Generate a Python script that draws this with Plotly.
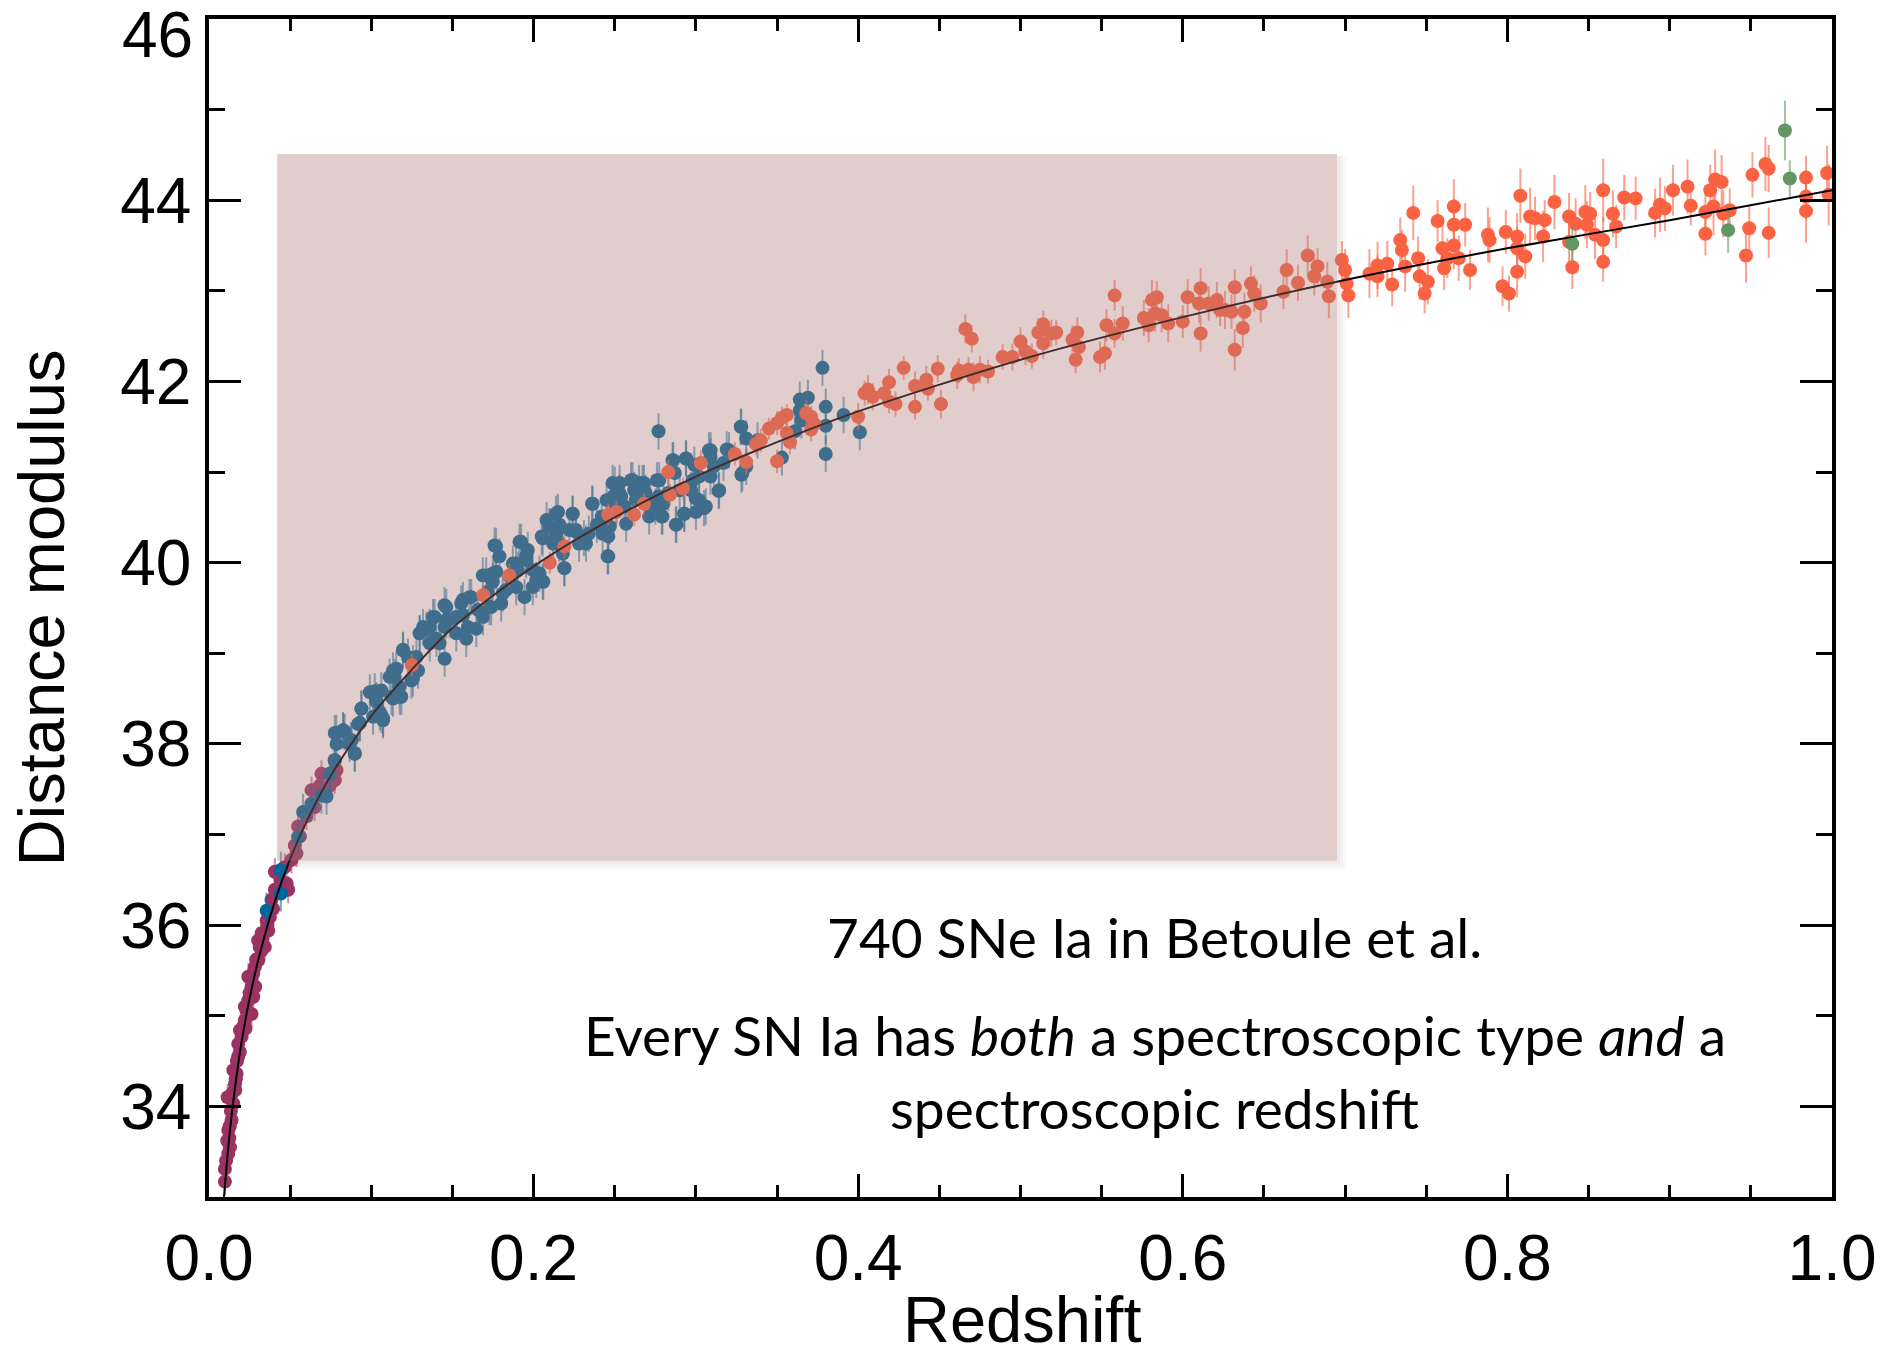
import plotly.graph_objects as go

# ---------------- data ----------------
# Low-z sample (magenta)
lowz_z = [0.0098, 0.0098, 0.0119, 0.0129, 0.0119, 0.0139, 0.0150, 0.0115, 0.0160, 0.0170,
          0.0150, 0.0180, 0.0180, 0.0201, 0.0191, 0.0221, 0.0262, 0.0221, 0.0242, 0.0273,
          0.0262, 0.0242, 0.0273, 0.0283, 0.0303, 0.0324, 0.0344, 0.0303, 0.0324, 0.0365,
          0.0355, 0.0375, 0.0385, 0.0406, 0.0488, 0.0478, 0.0406, 0.0467, 0.0508, 0.0539,
          0.0529, 0.0549, 0.0693, 0.0785, 0.0775, 0.0683, 0.0744, 0.0632,
          0.0105, 0.0125, 0.0135, 0.0145, 0.0165, 0.0172, 0.0190, 0.0210, 0.0232, 0.0250,
          0.0262, 0.0290, 0.0312, 0.0330, 0.0360, 0.0285, 0.0225, 0.0162, 0.0112, 0.0128,
          0.0395, 0.0440, 0.0560, 0.0600, 0.0650]
lowz_mu = [33.17, 33.31, 33.48, 33.55, 33.74, 33.85, 34.03, 34.10, 34.25, 34.36,
           34.40, 34.55, 34.69, 34.77, 34.84, 34.95, 35.02, 35.10, 35.17, 35.21,
           35.32, 35.43, 35.47, 35.54, 35.61, 35.72, 35.76, 35.83, 35.91, 35.94,
           36.05, 36.09, 36.28, 36.39, 36.39, 36.46, 36.59, 36.64, 36.72, 36.79,
           36.88, 37.09, 37.67, 37.71, 37.60, 37.54, 37.54, 37.49,
           33.40, 33.65, 33.95, 34.15, 34.30, 34.50, 34.60, 34.88, 35.05, 35.25,
           35.40, 35.62, 35.76, 35.86, 36.00, 35.32, 34.86, 34.18, 33.62, 33.78,
           36.18, 36.50, 36.98, 37.20, 37.30]
lowz_err = 0.15

# SDSS sample (blue)
sdss_z = [0.0355, 0.0443, 0.0443, 0.0549, 0.0580, 0.0631, 0.0693, 0.0724, 0.0744, 0.0775,
          0.0785, 0.0836, 0.0877, 0.0898, 0.0929,
          0.0745, 0.0775, 0.0786, 0.0827, 0.0898, 0.0878, 0.0919, 0.0939, 0.0991, 0.1032,
          0.1011, 0.1052, 0.1073, 0.1062, 0.1134, 0.1124, 0.1144, 0.1185, 0.1175, 0.1196,
          0.1247, 0.1257, 0.1226, 0.1288, 0.1278, 0.1298, 0.1319, 0.1339, 0.1360, 0.1380,
          0.1401, 0.1421, 0.1452, 0.1452, 0.1462, 0.1483, 0.1524, 0.1554, 0.1565, 0.1585,
          0.1595, 0.1616, 0.1647, 0.1657, 0.1688, 0.1708, 0.1718, 0.1739, 0.1749, 0.1759,
          0.1790, 0.1770, 0.1800, 0.1831, 0.1872, 0.1893, 0.1913, 0.1903, 0.1944, 0.1954,
          0.1964, 0.1995, 0.2016,
          0.0775, 0.0826, 0.0867, 0.0939, 0.0929, 0.1021, 0.1031, 0.1062, 0.1072, 0.1134,
          0.1175, 0.1113, 0.1154, 0.1195, 0.1257, 0.1298, 0.1359, 0.1390, 0.1451, 0.1462,
          0.1523, 0.1564, 0.1605, 0.1687, 0.1728, 0.1749, 0.1769, 0.1810, 0.1851, 0.1892,
          0.1923, 0.1954, 0.1995, 0.2036, 0.2056, 0.2056, 0.2097, 0.2138, 0.2159, 0.2189,
          0.2241, 0.2261, 0.2323, 0.2364, 0.2425, 0.2456, 0.2487, 0.2528, 0.2610, 0.2671,
          0.2712, 0.2774, 0.2794, 0.2876, 0.2856, 0.2938, 0.2927, 0.2999, 0.3061, 0.3091,
          0.3143, 0.3204, 0.3276, 0.3286,
          0.206, 0.205, 0.208, 0.210, 0.212, 0.214, 0.215, 0.216, 0.219, 0.218,
          0.224, 0.222, 0.226, 0.228, 0.231, 0.234, 0.236, 0.239, 0.242, 0.245,
          0.246, 0.246, 0.247, 0.249, 0.250, 0.251, 0.253, 0.254, 0.256, 0.257,
          0.260, 0.262, 0.263, 0.265, 0.268, 0.269, 0.272, 0.275, 0.276, 0.277,
          0.277, 0.279, 0.280, 0.283, 0.286, 0.287, 0.288, 0.290, 0.293, 0.294,
          0.297, 0.299, 0.300, 0.298,
          0.302, 0.305, 0.302, 0.308, 0.309, 0.309, 0.311, 0.314, 0.319, 0.317,
          0.328, 0.328, 0.331, 0.331, 0.338, 0.353, 0.361, 0.364, 0.364, 0.369,
          0.365, 0.378, 0.380, 0.380, 0.380, 0.391, 0.401]
sdss_mu = [36.16, 36.35, 36.61, 36.97, 37.25, 37.34, 37.43, 37.42, 37.67, 37.82,
           38.12, 38.13, 38.04, 37.90, 38.23,
           37.67, 37.82, 38.00, 38.15, 37.89, 38.04, 38.22, 38.39, 38.57, 38.48,
           38.30, 38.35, 38.28, 38.59, 38.81, 38.52, 38.74, 38.52, 38.63, 39.03,
           38.70, 38.72, 38.96, 38.81, 38.96, 39.22, 39.29, 39.26, 39.11, 39.40,
           39.16, 39.11, 38.94, 39.29, 39.51, 39.37, 39.22, 39.55, 39.42, 39.16,
           39.29, 39.62, 39.27, 39.48, 39.40, 39.86, 39.68, 39.51, 39.79, 40.19,
           40.07, 39.90, 39.55, 39.70, 39.99, 39.73, 40.23, 39.92, 39.62, 40.03,
           40.14, 39.92, 39.81,
           38.12, 38.15, 38.00, 38.39, 38.23, 38.58, 38.47, 38.32, 38.26, 38.50,
           38.52, 38.74, 38.83, 39.04, 38.89, 39.22, 39.29, 39.40, 39.53, 39.37,
           39.40, 39.59, 39.62, 39.86, 39.51, 39.88, 40.18, 39.66, 39.85, 39.99,
           40.23, 40.07, 39.73, 39.88, 39.79, 40.27, 40.40, 40.54, 40.21, 39.94,
           40.54, 40.36, 40.21, 40.65, 40.32, 40.07, 40.88, 40.77, 40.91, 40.88,
           40.51, 40.91, 40.51, 40.42, 41.13, 41.15, 40.54, 40.71, 40.62, 41.24,
           40.80, 41.24, 41.50, 40.99,
           39.79, 40.29, 40.47, 40.40, 40.21, 40.32, 40.56, 40.42, 39.94, 40.10,
           40.54, 40.36, 40.34, 40.21, 40.27, 40.32, 40.65, 40.42, 40.51, 40.69,
           40.29, 40.07, 40.40, 40.73, 40.86, 40.62, 40.88, 40.73, 40.62, 40.43,
           40.91, 40.80, 40.69, 40.88, 40.88, 40.77, 40.69, 40.62, 40.91, 40.73,
           41.45, 40.51, 40.65, 40.77, 41.13, 40.99, 40.42, 40.80, 40.54, 41.15,
           40.80, 41.08, 40.56, 40.91,
           40.95, 40.60, 40.69, 41.24, 41.17, 40.95, 41.06, 40.79, 41.25, 41.10,
           41.50, 40.97, 41.37, 41.06, 41.35, 41.16, 41.45, 41.80, 41.68, 41.82,
           41.57, 42.15, 41.72, 41.51, 41.20, 41.63, 41.44]
sdss_err = 0.2

# SNLS sample (orange)
snls_z = [0.125, 0.169, 0.185, 0.210, 0.219, 0.246, 0.251, 0.262, 0.268, 0.283, 0.284, 0.292,
          0.303, 0.324, 0.331, 0.337, 0.340, 0.345, 0.350, 0.353, 0.356, 0.350,
          0.356, 0.358, 0.368, 0.371, 0.371, 0.373, 0.400, 0.406, 0.404, 0.409,
          0.416, 0.419, 0.419, 0.423, 0.428, 0.435, 0.435, 0.442, 0.443, 0.449,
          0.451, 0.462, 0.461, 0.466, 0.470, 0.468, 0.471, 0.475, 0.480, 0.489,
          0.495, 0.500, 0.503, 0.507, 0.511, 0.514, 0.514, 0.519, 0.522, 0.532,
          0.534, 0.535, 0.536,
          0.558, 0.553, 0.558, 0.563, 0.549, 0.552, 0.576, 0.579, 0.581, 0.584,
          0.583, 0.587, 0.591, 0.600, 0.603, 0.611, 0.611, 0.610, 0.616, 0.621,
          0.623, 0.626, 0.630, 0.632, 0.632, 0.638, 0.637, 0.642, 0.644, 0.648,
          0.662, 0.664, 0.671, 0.677, 0.681, 0.683, 0.689, 0.690, 0.698, 0.700,
          0.701, 0.702, 0.715, 0.720, 0.720, 0.726, 0.729,
          0.734, 0.742, 0.735, 0.737, 0.745, 0.746, 0.749, 0.751, 0.757, 0.760,
          0.761, 0.763, 0.767, 0.767, 0.767, 0.770, 0.774, 0.777, 0.788, 0.789,
          0.797, 0.799, 0.801, 0.806, 0.806, 0.806, 0.808, 0.811, 0.814, 0.817,
          0.822, 0.823, 0.829, 0.838, 0.838, 0.840, 0.842, 0.848, 0.849, 0.851,
          0.854, 0.859, 0.859, 0.859, 0.865, 0.867, 0.872, 0.879, 0.891, 0.894,
          0.897, 0.902, 0.911, 0.913, 0.922, 0.922, 0.925, 0.927, 0.928, 0.932,
          0.933, 0.937, 0.947, 0.949, 0.951, 0.959, 0.961, 0.961, 0.984, 0.984,
          0.984, 0.997, 0.998]
snls_mu = [38.87, 39.64, 39.86, 40.00, 40.18, 40.53, 40.56, 40.53, 40.65, 41.00, 40.75, 40.82,
           41.10, 41.20, 41.11, 41.31, 41.35, 41.48, 41.54, 41.60, 41.63, 41.12,
           41.43, 41.33, 41.65, 41.61, 41.47, 41.53, 41.61, 41.91, 41.87, 41.83,
           41.87, 41.99, 41.78, 41.75, 42.15, 41.95, 41.72, 42.02, 41.92, 42.14,
           41.75, 42.12, 42.07, 42.58, 42.47, 42.13, 42.05, 42.13, 42.11, 42.27,
           42.27, 42.44, 42.33, 42.28, 42.54, 42.63, 42.42, 42.53, 42.54, 42.46,
           42.24, 42.54, 42.38,
           42.95, 42.62, 42.53, 42.64, 42.27, 42.31, 42.70, 42.62, 42.90, 42.93,
           42.75, 42.73, 42.64, 42.66, 42.93, 43.03, 42.53, 42.86, 42.86, 42.90,
           42.79, 42.79, 42.77, 43.04, 42.35, 42.77, 42.59, 43.08, 42.97, 42.86,
           42.99, 43.23, 43.09, 43.39, 43.16, 43.27, 43.10, 42.94, 43.34, 43.23,
           43.08, 42.95, 43.19, 43.28, 43.16, 43.30, 43.07,
           43.56, 43.86, 43.45, 43.27, 43.36, 43.16, 42.97, 43.10, 43.77, 43.47,
           43.25, 43.36, 43.93, 43.50, 43.73, 43.36, 43.73, 43.23, 43.62, 43.56,
           43.05, 43.65, 42.97, 43.60, 43.21, 43.47, 44.05, 43.38, 43.82, 43.80,
           43.60, 43.78, 43.98, 43.82, 43.54, 43.26, 43.74, 43.87, 43.73, 43.85,
           43.62, 43.56, 44.11, 43.32, 43.85, 43.71, 44.03, 44.02, 43.86, 43.95,
           43.91, 44.11, 44.15, 43.94, 43.87, 43.63, 44.11, 43.93, 44.23, 44.20,
           43.85, 43.89, 43.39, 43.69, 44.28, 44.40, 43.64, 44.35, 44.25, 44.04,
           43.88, 44.30, 44.06]
snls_err = [0.12, 0.12, 0.13, 0.12, 0.13, 0.12, 0.12, 0.13, 0.12, 0.13, 0.12, 0.12,
            0.14, 0.13, 0.14, 0.12, 0.13, 0.12, 0.13, 0.12, 0.12, 0.13,
            0.12, 0.13, 0.14, 0.12, 0.13, 0.12, 0.15, 0.16, 0.14, 0.15,
            0.14, 0.15, 0.13, 0.14, 0.13, 0.16, 0.14, 0.15, 0.13, 0.15,
            0.16, 0.14, 0.15, 0.16, 0.15, 0.14, 0.16, 0.15, 0.13, 0.14,
            0.15, 0.16, 0.15, 0.14, 0.16, 0.15, 0.17, 0.15, 0.14, 0.16,
            0.15, 0.17, 0.16,
            0.17, 0.18, 0.16, 0.19, 0.17, 0.18, 0.20, 0.19, 0.22, 0.18,
            0.20, 0.19, 0.21, 0.18, 0.20, 0.22, 0.20, 0.21, 0.19, 0.20,
            0.18, 0.21, 0.19, 0.20, 0.23, 0.21, 0.22, 0.19, 0.20, 0.21,
            0.19, 0.23, 0.20, 0.22, 0.21, 0.20, 0.22, 0.24, 0.21, 0.23,
            0.20, 0.25, 0.27, 0.26, 0.23, 0.25, 0.24,
            0.25, 0.30, 0.22, 0.28, 0.24, 0.26, 0.22, 0.25, 0.23, 0.27,
            0.24, 0.22, 0.30, 0.26, 0.28, 0.25, 0.24, 0.22, 0.30, 0.25,
            0.22, 0.24, 0.20, 0.26, 0.28, 0.23, 0.30, 0.25, 0.32, 0.24,
            0.28, 0.22, 0.30, 0.26, 0.25, 0.24, 0.28, 0.30, 0.26, 0.24,
            0.27, 0.25, 0.35, 0.22, 0.26, 0.24, 0.25, 0.24, 0.27, 0.30,
            0.25, 0.28, 0.30, 0.22, 0.30, 0.24, 0.28, 0.32, 0.33, 0.30,
            0.26, 0.24, 0.30, 0.25, 0.25, 0.30, 0.28, 0.26, 0.24, 0.26,
            0.35, 0.30, 0.34]

# HST sample (green)
hst_z = [0.840, 0.936, 0.971, 0.974]
hst_mu = [43.52, 43.67, 44.77, 44.24]
hst_err = [0.20, 0.25, 0.33, 0.20]

# Best-fit cosmology curve
fit_z = [0.0092, 0.012, 0.015, 0.02, 0.025, 0.03, 0.04, 0.05, 0.06, 0.075, 0.1, 0.125,
         0.15, 0.2, 0.25, 0.3, 0.35, 0.4, 0.5, 0.6, 0.7, 0.8, 0.9, 1.0]
fit_mu = [32.99, 33.57, 34.06, 34.70, 35.19, 35.59, 36.23, 36.73, 37.14, 37.65, 38.31, 38.82,
          39.28, 39.96, 40.50, 40.95, 41.33, 41.67, 42.24, 42.71, 43.12, 43.47, 43.78, 44.11]

# Highlighted region (redshift / distance-modulus extent)
box_z = [0.042, 0.695]
box_mu = [36.71, 44.51]

y_tick_vals = [34, 36, 38, 40, 42, 44, 46]
y_tick_text = ["34", "36", "38", "40", "42", "44", ""]

assert len(lowz_z) == len(lowz_mu)
assert len(sdss_z) == len(sdss_mu)
assert len(snls_z) == len(snls_mu) == len(snls_err), (len(snls_z), len(snls_mu), len(snls_err))

# ---------------- figure ----------------
LABEL_FONT = "Liberation Sans, Arial, Helvetica, sans-serif"
NOTE_FONT = "Lato, Open Sans, sans-serif"

fig = go.Figure()

def add_series(z, mu, err, color, err_color):
    if isinstance(err, list):
        ey = dict(type="data", array=err, color=err_color, thickness=2, width=0)
    else:
        ey = dict(type="constant", value=err, color=err_color, thickness=2, width=0)
    fig.add_trace(go.Scatter(
        x=z, y=mu, mode="markers",
        marker=dict(size=14, color=color, line=dict(width=0)),
        error_y=ey, showlegend=False, hoverinfo="x+y"))

add_series(lowz_z, lowz_mu, lowz_err, "rgb(155,50,100)", "rgba(155,50,100,0.55)")
add_series(sdss_z, sdss_mu, sdss_err, "rgb(0,103,154)", "rgba(0,103,154,0.55)")
add_series(snls_z, snls_mu, snls_err, "rgb(250,98,66)", "rgba(250,98,66,0.6)")
add_series(hst_z, hst_mu, hst_err, "rgb(100,150,100)", "rgba(100,150,100,0.6)")

fig.add_trace(go.Scatter(x=fit_z, y=fit_mu, mode="lines",
                         line=dict(color="black", width=2, shape="spline", smoothing=0.8),
                         showlegend=False, hoverinfo="skip"))

# translucent highlight box with a soft shadow along its right and bottom edges
PX_X = 1.0 / 1625.0
PX_Y = 1.0 / 90.6
for k in (1, 2, 3):
    fig.add_shape(type="rect", xref="x", yref="y",
                  x0=box_z[1], x1=box_z[1] + 3 * k * PX_X,
                  y0=box_mu[0] - 3 * k * PX_Y, y1=box_mu[1] - 2 * PX_Y,
                  fillcolor="rgba(150,120,120,0.05)", line=dict(width=0), layer="above")
    fig.add_shape(type="rect", xref="x", yref="y",
                  x0=box_z[0] + 2 * PX_X, x1=box_z[1],
                  y0=box_mu[0] - 3 * k * PX_Y, y1=box_mu[0],
                  fillcolor="rgba(150,120,120,0.05)", line=dict(width=0), layer="above")
fig.add_shape(type="rect", xref="x", yref="y",
              x0=box_z[0], x1=box_z[1], y0=box_mu[0], y1=box_mu[1],
              fillcolor="rgba(172,120,118,0.373)", line=dict(width=0), layer="above")

axis_common = dict(
    showline=True, linewidth=3.5, linecolor="black", mirror="ticks",
    ticks="inside", tickwidth=3, tickcolor="black",
    showgrid=False, zeroline=False,
    tickfont=dict(family=LABEL_FONT, size=64, color="black"),
)

fig.update_xaxes(range=[0, 1.0], dtick=0.2, tick0=0, tickformat=".1f", ticklen=23,
                 minor=dict(ticks="inside", dtick=0.05, tick0=0, ticklen=12,
                            tickwidth=3, tickcolor="black", showgrid=False),
                 ticklabelstandoff=2, **axis_common)
fig.update_yaxes(range=[33, 46], tickvals=y_tick_vals, ticktext=y_tick_text, ticklen=32,
                 minor=dict(ticks="inside", dtick=1, tick0=33, ticklen=16,
                            tickwidth=3, tickcolor="black", showgrid=False),
                 ticklabelstandoff=1, **axis_common)

annotations = [
    dict(text="46", xref="paper", yref="paper", x=-0.0086, y=0.9864,
         xanchor="right", yanchor="middle", showarrow=False,
         font=dict(family=LABEL_FONT, size=64, color="black")),
    dict(text="Redshift", xref="paper", yref="paper", x=0.501, y=-0.1362,
         xanchor="center", yanchor="bottom", showarrow=False, borderpad=0,
         font=dict(family=LABEL_FONT, size=65, color="black")),
    dict(text="Distance modulus", xref="paper", yref="paper", x=-0.1034, y=0.5,
         xanchor="center", yanchor="middle", textangle=-90, showarrow=False,
         font=dict(family=LABEL_FONT, size=65, color="black")),
    dict(text="740 SNe Ia in Betoule et al.", xref="paper", yref="paper",
         x=0.5828, y=0.2207, xanchor="center", yanchor="middle", showarrow=False,
         font=dict(family=NOTE_FONT, size=55, color="black")),
    dict(text="Every SN Ia has <i>both</i> a spectroscopic type <i>and</i> a",
         xref="paper", yref="paper", x=0.5828, y=0.1375, xanchor="center",
         yanchor="middle", showarrow=False,
         font=dict(family=NOTE_FONT, size=55, color="black")),
    dict(text="spectroscopic redshift", xref="paper", yref="paper",
         x=0.5828, y=0.0756, xanchor="center", yanchor="middle", showarrow=False,
         font=dict(family=NOTE_FONT, size=55, color="black")),
]

fig.update_layout(
    width=1888, height=1358,
    margin=dict(l=209, r=54, t=19, b=161),
    paper_bgcolor="white", plot_bgcolor="white",
    showlegend=False,
    annotations=annotations,
)

fig.write_html("out.html")
